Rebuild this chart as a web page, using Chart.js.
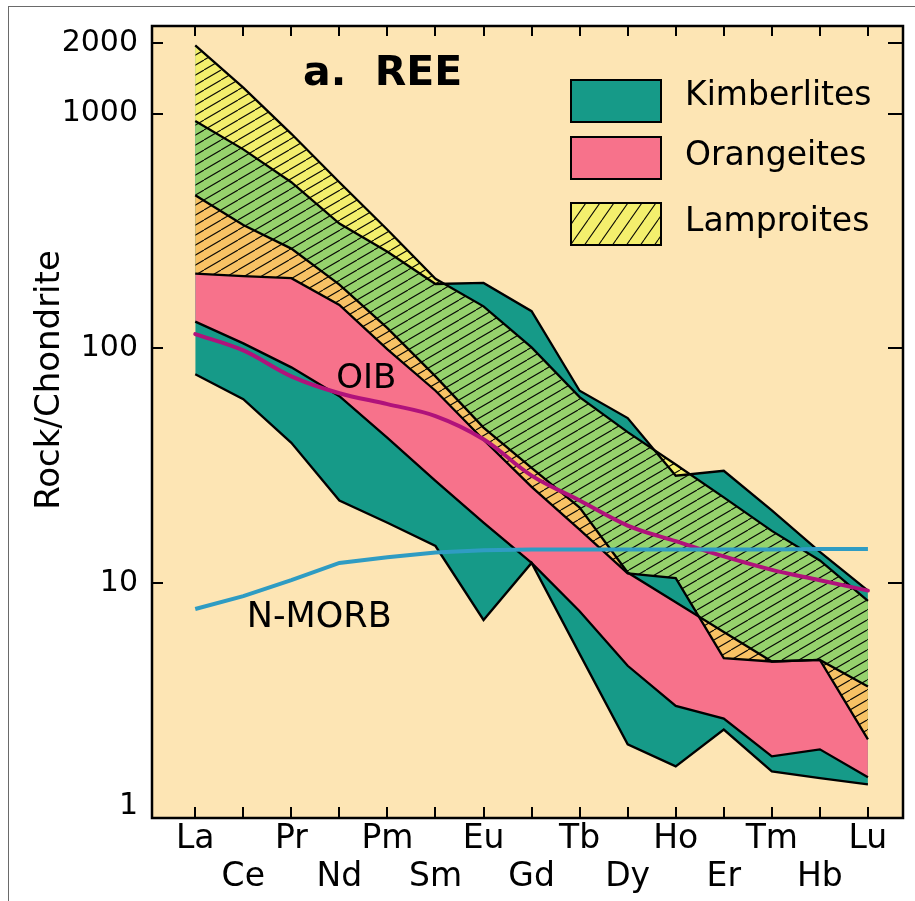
<!DOCTYPE html>
<html>
<head>
<meta charset="utf-8">
<script src="https://cdn.jsdelivr.net/npm/chart.js@4.4.1/dist/chart.umd.min.js"></script>
<style>
  html, body { margin: 0; padding: 0; background: #ffffff; }
  #wrap { position: relative; width: 915px; height: 901px; overflow: hidden; }
  #frame { position: absolute; left: 8px; top: 6px; right: -2px; bottom: -2px;
           border-left: 1px solid #6a6a6a; border-top: 1px solid #6a6a6a; pointer-events: none; }
  canvas { display: block; }
</style>
</head>
<body>
<div id="wrap">
  <canvas id="chart" width="915" height="901"></canvas>
  <div id="frame"></div>
</div>
<script>
// ---------------- data ----------------
const elements = ['La', 'Ce', 'Pr', 'Nd', 'Pm', 'Sm', 'Eu', 'Gd', 'Tb', 'Dy', 'Ho', 'Er', 'Tm', 'Hb', 'Lu'];
const yTickValues = [1, 10, 100, 1000, 2000];

const lamproiteUpper  = [1950, 1290, 820, 510, 320, 198, 151, 101, 62, 44, 32, 23.2, 16.7, 12.5, 8.4];
const lamproiteLower  = [208, 203, 199, 153, 99, 66, 40.8, 25.7, 16.9, 11.0, 10.5, 4.80, 4.64, 4.71, 2.16];
const kimberliteUpper = [930, 704, 510, 340, 258, 188, 190, 144, 66, 50.5, 28.7, 30.1, 20.4, 13.6, 9.3];
const kimberliteLower = [77.6, 60.8, 39.6, 22.5, 18.1, 14.4, 6.97, 12.2, 5.0, 2.06, 1.66, 2.38, 1.58, 1.48, 1.39];
const orangeiteUpper  = [449, 335, 266, 187, 122, 76, 46, 31, 21, 11.1, 8.3, 6.2, 4.64, 4.71, 3.63];
const orangeiteLower  = [130, 105, 83, 62.6, 41.6, 27.3, 18.1, 12.2, 7.6, 4.45, 3.0, 2.65, 1.83, 1.96, 1.49];
const oib   = [115, 98, 76, 64.4, 57.9, 51.5, 41, 28.7, 22.5, 17.6, 15.1, 13.0, 11.4, 10.3, 9.3];
const nMorb = [7.76, 8.81, 10.3, 12.2, 12.9, 13.5, 13.8, 13.9, 13.9, 13.9, 13.9, 13.9, 13.9, 14.0, 14.0];

// ---------------- styles ----------------
const FONT = '"DejaVu Sans", "Liberation Sans", Arial, sans-serif';
const COLORS = {
  bg: '#fde5b4',
  teal: '#169a88',
  pink: '#f7728b',
  yellow: '#f4ef6d',
  green: '#96d26d',
  orange: '#f8c265',
  oib: '#b0127b',
  nmorb: '#2f9cc3',
  none: 'rgba(0,0,0,0)'
};

function makeHatch(w, h, base) {
  const c = document.createElement('canvas');
  c.width = w; c.height = h;
  const g = c.getContext('2d');
  if (base) { g.fillStyle = base; g.fillRect(0, 0, w, h); }
  g.strokeStyle = 'rgba(0,0,0,0.95)';
  g.lineWidth = 1.1;
  g.beginPath();
  g.moveTo(0, h); g.lineTo(w, 0);
  g.moveTo(-w, h); g.lineTo(0, 0);
  g.moveTo(w, h); g.lineTo(2 * w, 0);
  g.stroke();
  return c;
}
const ctxMain = document.getElementById('chart').getContext('2d');
const plotHatch = ctxMain.createPattern(makeHatch(17, 10, null), 'repeat');
const legendHatch = ctxMain.createPattern(makeHatch(14, 20, null), 'repeat');

const pts = arr => arr.map((v, i) => ({ x: i, y: v }));
const boundary = { borderColor: '#000', borderWidth: 2.3, pointRadius: 0, pointHoverRadius: 0, tension: 0 };
const silent = { borderWidth: 0, pointRadius: 0, pointHoverRadius: 0, tension: 0, borderColor: 'rgba(0,0,0,0)' };

const datasets = [
  // 0: kimberlite field (teal)
  Object.assign({ label: 'Kimberlites', data: pts(kimberliteUpper), order: 20,
    fill: { target: 1, above: COLORS.teal, below: COLORS.teal } }, boundary),
  // 1
  Object.assign({ label: 'Kimberlites lower', data: pts(kimberliteLower), order: 19, fill: false }, boundary),
  // 2: orangeite field (pink)
  Object.assign({ label: 'Orangeites', data: pts(orangeiteUpper), order: 18,
    fill: { target: 3, above: COLORS.pink, below: COLORS.pink } }, boundary),
  // 3
  Object.assign({ label: 'Orangeites lower', data: pts(orangeiteLower), order: 17, fill: false }, boundary),
  // 4: lamproite field (green base)
  Object.assign({ label: 'Lamproites', data: pts(lamproiteUpper), order: 16,
    fill: { target: 5, above: COLORS.green, below: COLORS.green } }, boundary),
  // 5
  Object.assign({ label: 'Lamproites lower', data: pts(lamproiteLower), order: 15, fill: false }, boundary),
  // 6: lamproite only (yellow) where lamproite top lies above kimberlite top
  Object.assign({ label: 'Lamproites only', data: pts(lamproiteUpper), order: 14,
    fill: { target: 0, above: COLORS.yellow, below: COLORS.none } }, silent),
  // 7: lamproite + orangeite overlap (orange)
  Object.assign({ label: 'Lamproite-orangeite overlap', data: pts(orangeiteUpper), order: 13,
    fill: { target: 5, above: COLORS.orange, below: COLORS.none } }, silent),
  // 8: hatch over lamproite field
  Object.assign({ label: 'Lamproite hatch', data: pts(lamproiteUpper), order: 12,
    fill: { target: 5, above: plotHatch, below: plotHatch } }, silent),
  // 9: OIB
  { label: 'OIB', data: pts(oib), order: 2, fill: false, borderColor: COLORS.oib, borderWidth: 4,
    pointRadius: 0, pointHoverRadius: 0, tension: 0.35, borderCapStyle: 'round' },
  // 10: N-MORB
  { label: 'N-MORB', data: pts(nMorb), order: 1, fill: false, borderColor: COLORS.nmorb, borderWidth: 4,
    pointRadius: 0, pointHoverRadius: 0, tension: 0 }
];

const deco = {
  id: 'deco',
  beforeDraw(chart) {
    const { ctx, chartArea: a } = chart;
    ctx.save();
    ctx.fillStyle = COLORS.bg;
    ctx.fillRect(a.left, a.top, a.right - a.left, a.bottom - a.top);
    ctx.restore();
  },
  afterDatasetsDraw(chart) {
    const { ctx, scales: { x, y } } = chart;
    ctx.save();
    ctx.fillStyle = '#000';
    ctx.font = '34px ' + FONT;
    ctx.textAlign = 'center';
    ctx.textBaseline = 'alphabetic';
    ctx.fillText('OIB', x.getPixelForValue(3.56), y.getPixelForValue(67.7));
    ctx.font = '35px ' + FONT;
    ctx.fillText('N-MORB', x.getPixelForValue(2.58), y.getPixelForValue(6.51));
    ctx.restore();
  },
  afterDraw(chart) {
    const { ctx, chartArea: a, scales: { x, y } } = chart;
    ctx.save();
    // inward tick marks
    ctx.strokeStyle = '#000';
    ctx.lineWidth = 2;
    ctx.beginPath();
    x.ticks.forEach(t => {
      const px = Math.round(x.getPixelForValue(t.value));
      ctx.moveTo(px, a.bottom); ctx.lineTo(px, a.bottom - 11);
      ctx.moveTo(px, a.top); ctx.lineTo(px, a.top + 10);
    });
    y.ticks.forEach(t => {
      if (t.value <= 1) return;
      const py = Math.round(y.getPixelForValue(t.value));
      ctx.moveTo(a.left, py); ctx.lineTo(a.left + 11, py);
      ctx.moveTo(a.right, py); ctx.lineTo(a.right - 15, py);
    });
    ctx.stroke();
    // plot frame
    ctx.lineWidth = 2.5;
    ctx.strokeRect(a.left, a.top, a.right - a.left, a.bottom - a.top);

    // panel title
    ctx.fillStyle = '#000';
    ctx.font = 'bold 41px ' + FONT;
    ctx.textAlign = 'left';
    ctx.textBaseline = 'alphabetic';
    ctx.fillText('a.  REE', a.left + 151, a.top + 59);

    // legend
    const items = [
      { label: 'Kimberlites', fill: COLORS.teal, hatch: false, top: 54, base: 79 },
      { label: 'Orangeites', fill: COLORS.pink, hatch: false, top: 111, base: 139 },
      { label: 'Lamproites', fill: COLORS.yellow, hatch: true, top: 177, base: 205 }
    ];
    const bx = a.left + 419, bw = 90, bh = 42;
    ctx.font = '33px ' + FONT;
    items.forEach(it => {
      const by = a.top + it.top;
      ctx.fillStyle = it.fill;
      ctx.fillRect(bx, by, bw, bh);
      if (it.hatch) { ctx.fillStyle = legendHatch; ctx.fillRect(bx, by, bw, bh); }
      ctx.lineWidth = 2;
      ctx.strokeStyle = '#000';
      ctx.strokeRect(bx, by, bw, bh);
      ctx.fillStyle = '#000';
      ctx.fillText(it.label, a.left + 533, a.top + it.base);
    });

    // y-axis title
    ctx.save();
    ctx.translate(59, 380);
    ctx.rotate(-Math.PI / 2);
    ctx.font = '34px ' + FONT;
    ctx.textAlign = 'center';
    ctx.textBaseline = 'alphabetic';
    ctx.fillStyle = '#000';
    ctx.fillText('Rock/Chondrite', 0, 0);
    ctx.restore();

    ctx.restore();
  }
};

new Chart(ctxMain, {
  type: 'line',
  data: { datasets },
  options: {
    responsive: false,
    animation: false,
    devicePixelRatio: 1,
    events: [],
    layout: { padding: { top: 23, right: 12, left: 0, bottom: 0 } },
    plugins: {
      legend: { display: false },
      tooltip: { enabled: false },
      filler: { drawTime: 'beforeDatasetsDraw', propagate: false }
    },
    scales: {
      x: {
        type: 'linear', min: -0.9, max: 14.73, bounds: 'data',
        afterBuildTicks: ax => { ax.ticks = elements.map((e, i) => ({ value: i })); },
        afterFit: ax => { ax.height = 83; },
        grid: { display: false, drawTicks: false },
        border: { display: false },
        ticks: {
          autoSkip: false, maxRotation: 0, minRotation: 0, padding: 2, color: '#000',
          font: { family: FONT, size: 33, lineHeight: '38.5px' },
          callback: v => {
            const i = Math.round(v);
            return i % 2 === 0 ? [elements[i], ''] : ['', elements[i]];
          }
        }
      },
      y: {
        type: 'logarithmic', min: 1, max: 2360, bounds: 'data',
        afterBuildTicks: ax => { ax.ticks = yTickValues.map(v => ({ value: v })); },
        afterFit: ax => { ax.width = 152; },
        grid: { display: false, drawTicks: false },
        border: { display: false },
        ticks: {
          autoSkip: false, padding: 14, color: '#000',
          font: { family: FONT, size: 30, lineHeight: '24px' },
          callback: v => (v === 1 ? ['1', ''] : String(v))
        }
      }
    }
  },
  plugins: [deco]
});
</script>
</body>
</html>
